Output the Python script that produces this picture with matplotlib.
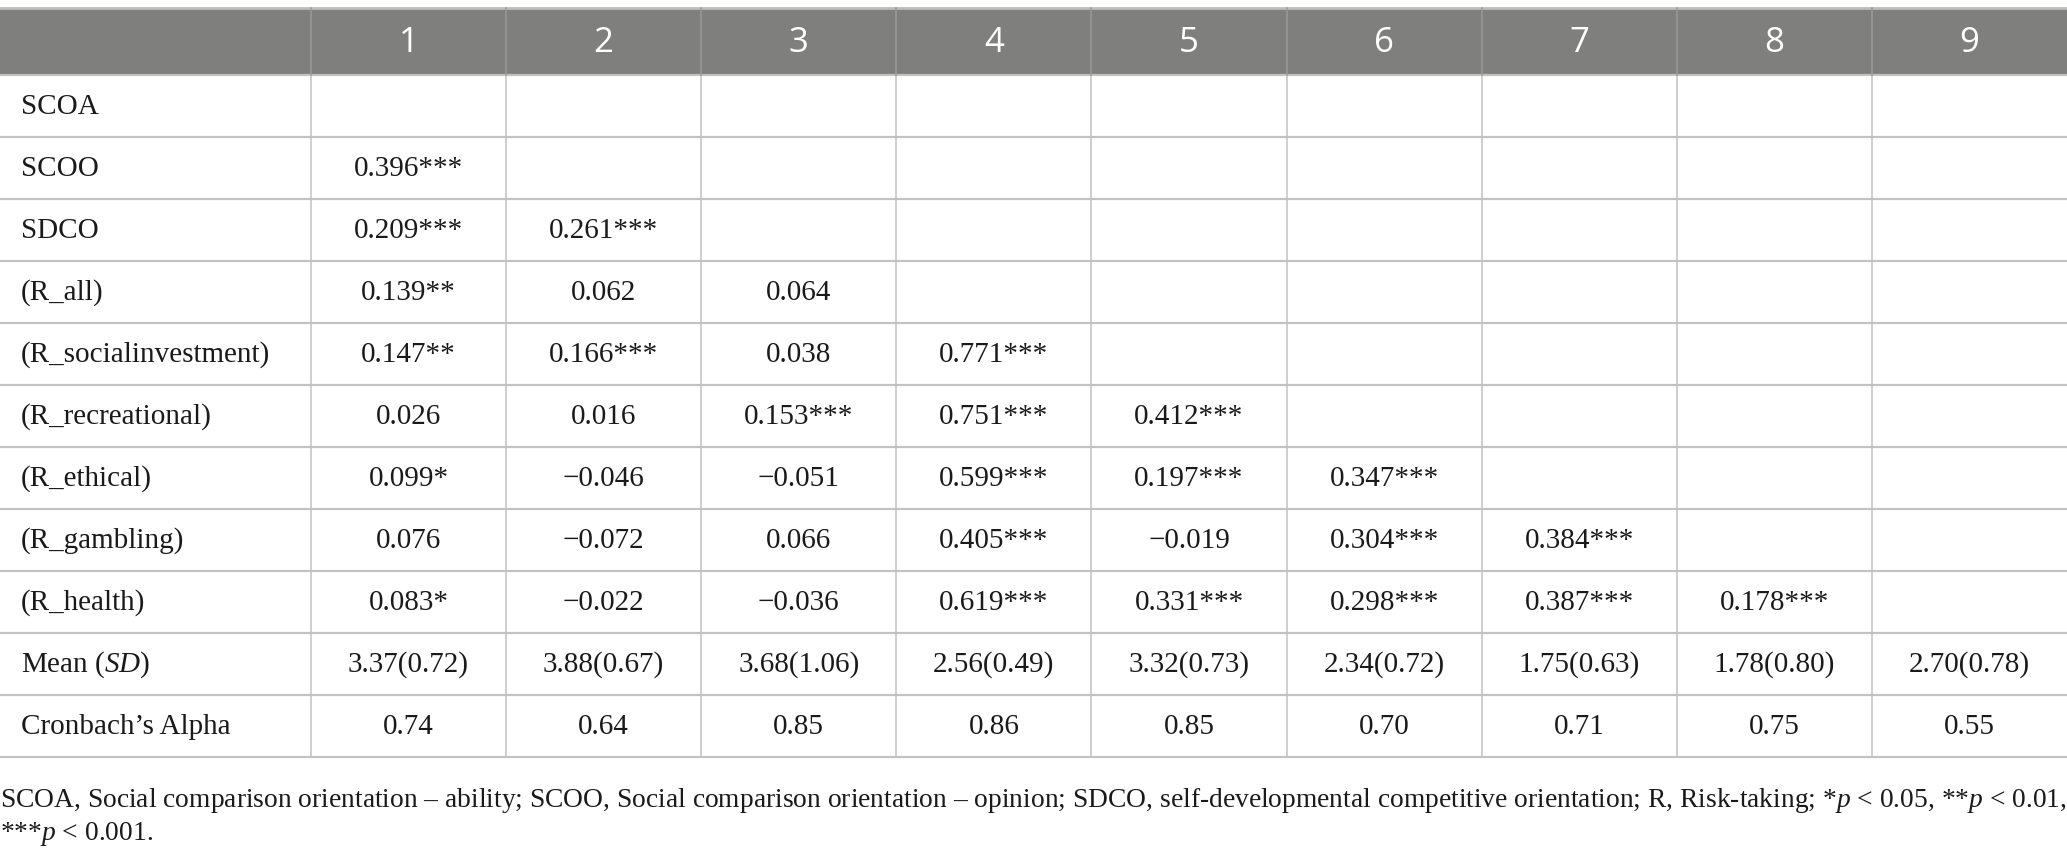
import matplotlib
matplotlib.use('Agg')
import matplotlib.pyplot as plt
from matplotlib.patches import Rectangle

plt.rcParams['mathtext.fontset'] = 'custom'
plt.rcParams['mathtext.rm'] = 'Liberation Serif'
plt.rcParams['mathtext.it'] = 'Liberation Serif:italic'

col_headers = ['1', '2', '3', '4', '5', '6', '7', '8', '9']
row_labels = ['SCOA', 'SCOO', 'SDCO', '(R_all)', '(R_socialinvestment)',
              '(R_recreational)', '(R_ethical)', '(R_gambling)', '(R_health)',
              'Mean ($\\mathit{SD}$)', "Cronbach\u2019s Alpha"]

corr = [
    [],
    ['0.396***'],
    ['0.209***', '0.261***'],
    ['0.139**', '0.062', '0.064'],
    ['0.147**', '0.166***', '0.038', '0.771***'],
    ['0.026', '0.016', '0.153***', '0.751***', '0.412***'],
    ['0.099*', '\u22120.046', '\u22120.051', '0.599***', '0.197***', '0.347***'],
    ['0.076', '\u22120.072', '0.066', '0.405***', '\u22120.019', '0.304***', '0.384***'],
    ['0.083*', '\u22120.022', '\u22120.036', '0.619***', '0.331***', '0.298***', '0.387***', '0.178***'],
]
means = ['3.37(0.72)', '3.88(0.67)', '3.68(1.06)', '2.56(0.49)', '3.32(0.73)',
         '2.34(0.72)', '1.75(0.63)', '1.78(0.80)', '2.70(0.78)']
alphas = ['0.74', '0.64', '0.85', '0.86', '0.85', '0.70', '0.71', '0.75', '0.55']

footnote = ['SCOA, Social comparison orientation \u2013 ability; SCOO, Social comparison orientation \u2013 opinion; '
            'SDCO, self-developmental competitive orientation; R, Risk-taking; *$\\mathit{p}$ < 0.05, **$\\mathit{p}$ < 0.01,',
            '***$\\mathit{p}$ < 0.001.']

W, H = 2067, 854
fig = plt.figure(figsize=(W / 100, H / 100), dpi=100)
ax = fig.add_axes([0, 0, 1, 1])
ax.set_xlim(0, W)
ax.set_ylim(H, 0)
ax.axis('off')

# layout
first_w = 311
col_w = (W - first_w) / len(col_headers)
top, head_h, row_h = 9, 67, 62
xs = [0, first_w] + [first_w + col_w * (i + 1) for i in range(len(col_headers))]

body = corr + [means, alphas]
n_rows = len(body)
bottom = top + head_h + row_h * n_rows

# header
ax.add_patch(Rectangle((0, top), W, head_h, facecolor='#7f807e', edgecolor='none'))
for j, h in enumerate(col_headers):
    cx = first_w + col_w * (j + 0.5)
    ax.text(cx, top + head_h / 2 + 1, h, ha='center', va='center', color='white',
            fontsize=25, family='Open Sans')

# grid lines
line_c = '#c2c2c2'
ax.plot([0, W], [top, top], color='#bcbcbc', lw=2)
for i in range(n_rows + 1):
    y = top + head_h + row_h * i
    ax.plot([0, W], [y, y], color=line_c, lw=1.6)
for x in xs[1:-1]:
    ax.plot([x, x], [top + head_h, bottom], color=line_c, lw=1.1)
    ax.plot([x, x], [top, top + head_h], color='#9a9a9a', lw=1.1)

# body text
txt_c = '#1a1a1a'
for i, (lab, vals) in enumerate(zip(row_labels, body)):
    cy = top + head_h + row_h * (i + 0.5)
    ax.text(21, cy, lab, ha='left', va='center', fontsize=21, family='Liberation Serif', color=txt_c)
    for j, v in enumerate(vals):
        cx = first_w + col_w * (j + 0.5)
        ax.text(cx, cy, v, ha='center', va='center', fontsize=21, family='Liberation Serif', color=txt_c)

# footnote
for k, line in enumerate(footnote):
    ax.text(0, bottom + 43 + 33 * k, line, ha='left', va='center', fontsize=19.8,
            family='Liberation Serif', color=txt_c)

fig.savefig('out.png', dpi=100)
